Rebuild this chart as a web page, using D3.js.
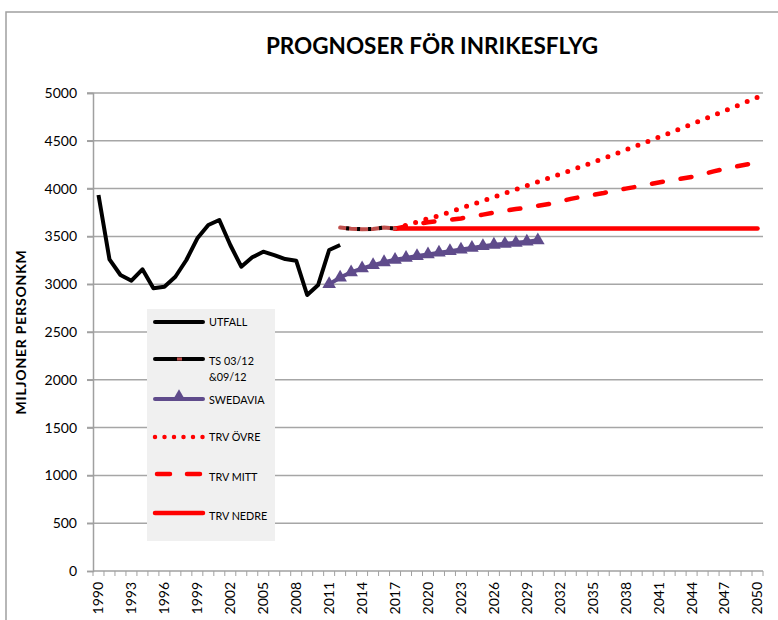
<!DOCTYPE html>
<html><head><meta charset="utf-8">
<script src="https://cdn.jsdelivr.net/npm/d3@7"></script>
<style>body{margin:0;background:#fff} svg{display:block}</style>
</head><body><svg id="c" width="778" height="620"></svg>
<script>
const categories = d3.range(1990, 2051).map(String);
const xTickLabels = ["1990","1993","1996","1999","2002","2005","2008","2011","2014","2017","2020","2023","2026","2029","2032","2035","2038","2041","2044","2047","2050"];
const yTicks = [0,500,1000,1500,2000,2500,3000,3500,4000,4500,5000];

const utfallStart = 1990;
const utfall = [3933,3260,3096,3037,3156,2957,2974,3078,3253,3480,3619,3672,3410,3183,3281,3340,3305,3263,3246,2887,2992,3358,3410];
const tsStart = 2012;
const ts = [3592,3580,3576,3578,3592,3582];
const swedaviaStart = 2011;
const swedavia = [3000,3070,3125,3165,3200,3230,3255,3275,3295,3312,3330,3346,3363,3380,3398,3413,3423,3433,3445,3460];
const trvStart = 2017;
const trvOvre = [3583,3617,3650,3685,3718,3756,3795,3834,3872,3910,3950,3990,4030,4070,4110,4150,4190,4232,4274,4317,4360,4404,4448,4492,4537,4582,4627,4673,4719,4766,4813,4860,4908,4956];
const trvMitt = [3580,3605,3630,3648,3660,3673,3688,3708,3728,3748,3768,3786,3802,3820,3838,3865,3893,3914,3934,3954,3977,4000,4020,4043,4064,4084,4103,4122,4150,4180,4207,4230,4252,4272];
const trvNedre = [3583,3583,3583,3583,3583,3583,3583,3583,3583,3583,3583,3583,3583,3583,3583,3583,3583,3583,3583,3583,3583,3583,3583,3583,3583,3583,3583,3583,3583,3583,3583,3583,3583,3583];

const svg = d3.select("#c");
const L = 93, R = 763, T = 93, B = 571;
const font = "Lato, 'Open Sans', sans-serif";

const x = d3.scaleBand().domain(categories).range([L, R]).padding(0);
const y = d3.scaleLinear().domain([0, 5000]).range([B, T]);
const cx = yr => x(String(yr)) + x.bandwidth() / 2;

// chart border
svg.append("rect").attr("x", 6).attr("y", 12).attr("width", 800).attr("height", 700)
  .attr("fill", "#fff").attr("stroke", "#a0a0a0").attr("stroke-width", 1.5);

// title
svg.append("text").attr("x", 432).attr("y", 54).attr("text-anchor", "middle")
  .attr("font-family", font).attr("font-weight", "bold").attr("font-size", 22.5)
  .text("PROGNOSER FÖR INRIKESFLYG");

// gridlines
svg.append("g").selectAll("line").data(yTicks.filter(d => d > 0)).join("line")
  .attr("x1", L - 6).attr("x2", R).attr("y1", d => y(d)).attr("y2", d => y(d))
  .attr("stroke", "#a6a6a6").attr("stroke-width", 1.5);

// y axis
const yAxis = svg.append("g").attr("transform", `translate(${L},0)`)
  .call(d3.axisLeft(y).tickValues(yTicks).tickSize(6).tickPadding(10).tickFormat(d3.format("d")));
yAxis.select(".domain").attr("stroke", "#a0a0a0").attr("stroke-width", 1.5);
yAxis.selectAll(".tick line").attr("stroke", "#a0a0a0").attr("stroke-width", 1.5);
yAxis.selectAll("text").attr("font-family", font).attr("font-size", 14).attr("fill", "#000");

// x axis
const xAxisG = svg.append("g").attr("transform", `translate(0,${B})`);
xAxisG.append("line").attr("x1", L).attr("x2", R).attr("stroke", "#a0a0a0").attr("stroke-width", 1.5);
const bounds = categories.map(c => x(c)).concat([R]);
xAxisG.selectAll("line.t").data(bounds).join("line").attr("class", "t")
  .attr("x1", d => d).attr("x2", d => d).attr("y1", 0).attr("y2", 5)
  .attr("stroke", "#a0a0a0").attr("stroke-width", 1);
xAxisG.selectAll("text").data(xTickLabels).join("text")
  .attr("transform", d => `translate(${cx(d)},11) rotate(-90)`)
  .attr("text-anchor", "end").attr("dy", "0.35em")
  .attr("font-family", font).attr("font-size", 14).text(d => d);

// y title
svg.append("text").attr("transform", `translate(26,${(T + B) / 2}) rotate(-90)`)
  .attr("text-anchor", "middle").attr("font-family", font).attr("font-weight", "bold")
  .attr("font-size", 14).attr("letter-spacing", 0.8).text("MILJONER  PERSONKM");

const line = d3.line().x(d => cx(d.yr)).y(d => y(d.v));
const toPts = (start, arr) => arr.map((v, i) => ({ yr: start + i, v }));

const red = "#ff0000", purple = "#5f4b8b", brown = "#c0504d";

// lines
svg.append("path").datum(toPts(trvStart, trvNedre)).attr("d", line)
  .attr("fill", "none").attr("stroke", red).attr("stroke-width", 4.5).attr("stroke-linecap", "round");
svg.append("path").datum(toPts(trvStart, trvMitt)).attr("d", line)
  .attr("fill", "none").attr("stroke", red).attr("stroke-width", 4.5)
  .attr("stroke-linecap", "round").attr("stroke-dasharray", "11,18");
svg.append("path").datum(toPts(trvStart, trvOvre)).attr("d", line)
  .attr("fill", "none").attr("stroke", red).attr("stroke-width", 5)
  .attr("stroke-linecap", "round").attr("stroke-dasharray", "0,10.7");

svg.append("path").datum(toPts(utfallStart, utfall)).attr("d", line)
  .attr("fill", "none").attr("stroke", "#000").attr("stroke-width", 4).attr("stroke-linejoin", "round");

svg.append("path").datum(toPts(tsStart, ts)).attr("d", line)
  .attr("fill", "none").attr("stroke", brown).attr("stroke-width", 4).attr("stroke-linecap", "round");
svg.append("path").datum(toPts(tsStart, ts)).attr("d", line)
  .attr("fill", "none").attr("stroke", "#000").attr("stroke-width", 4)
  .attr("stroke-dasharray", "3,8").attr("stroke-dashoffset", -6);

const sw = toPts(swedaviaStart, swedavia);
svg.append("path").datum(sw).attr("d", line)
  .attr("fill", "none").attr("stroke", purple).attr("stroke-width", 4);
const tri = d3.symbol().type(d3.symbolTriangle).size(80);
svg.append("g").selectAll("path").data(sw).join("path")
  .attr("transform", d => `translate(${cx(d.yr)},${y(d.v)})`).attr("d", tri)
  .attr("fill", purple);

// legend
const lg = svg.append("g");
lg.append("rect").attr("x", 147).attr("y", 309).attr("width", 128).attr("height", 232).attr("fill", "#f0f0f0");
const lx1 = 155, lx2 = 203, tx = 209;
const fs = 10.8;
function ltext(yy, t) {
  lg.append("text").attr("x", tx).attr("y", yy).attr("dy", "0.35em")
    .attr("font-family", font).attr("font-size", fs).text(t);
}
lg.append("line").attr("x1", lx1).attr("x2", lx2).attr("y1", 322).attr("y2", 322).attr("stroke", "#000").attr("stroke-width", 4).attr("stroke-linecap", "round");
ltext(322, "UTFALL");
lg.append("line").attr("x1", lx1).attr("x2", lx2).attr("y1", 359).attr("y2", 359).attr("stroke", "#000").attr("stroke-width", 4).attr("stroke-linecap", "round");
lg.append("rect").attr("x", 177).attr("y", 357.5).attr("width", 5).attr("height", 3).attr("fill", brown);
ltext(361, "TS 03/12");
ltext(377, "&09/12");
lg.append("line").attr("x1", lx1).attr("x2", lx2).attr("y1", 399).attr("y2", 399).attr("stroke", purple).attr("stroke-width", 4).attr("stroke-linecap", "round");
lg.append("path").attr("transform", "translate(179,397)").attr("d", tri).attr("fill", purple);
ltext(400, "SWEDAVIA");
lg.append("line").attr("x1", lx1).attr("x2", lx2).attr("y1", 437).attr("y2", 437).attr("stroke", red).attr("stroke-width", 4.5).attr("stroke-linecap", "round").attr("stroke-dasharray", "0,9.5");
ltext(437, "TRV ÖVRE");
lg.append("line").attr("x1", 157).attr("x2", 202).attr("y1", 474).attr("y2", 474).attr("stroke", red).attr("stroke-width", 4.5).attr("stroke-linecap", "round").attr("stroke-dasharray", "13,17");
ltext(477, "TRV MITT");
lg.append("line").attr("x1", lx1).attr("x2", lx2).attr("y1", 513).attr("y2", 513).attr("stroke", red).attr("stroke-width", 4.5).attr("stroke-linecap", "round");
ltext(516, "TRV NEDRE");
</script></body></html>
